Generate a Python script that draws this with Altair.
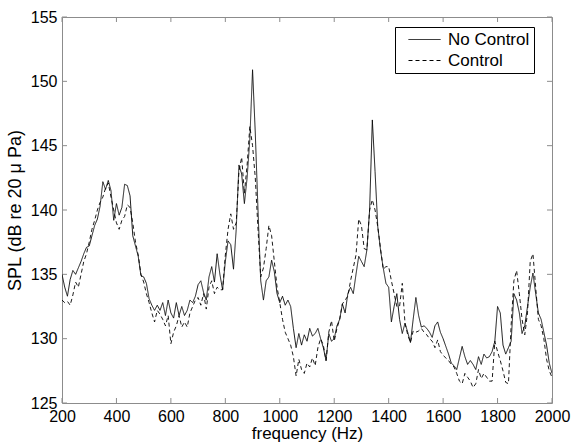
import altair as alt
import pandas as pd

freq = list(range(200, 2001, 10))

no_control = [
    135.0, 134.0, 133.3, 134.6, 135.3, 135.0, 135.5, 136.0, 136.6, 137.1,  # 200-290
    137.2, 138.0, 138.8, 139.3, 140.3, 142.2, 141.6, 142.3, 141.5, 139.2,  # 300-390
    140.5, 139.6, 140.2, 142.0, 141.9, 141.1, 138.0, 137.2, 136.4, 134.9,  # 400-490
    134.8, 134.3, 133.1, 132.6, 132.2, 132.6, 132.2, 132.8, 131.8, 133.0,  # 500-590
    132.0, 131.6, 132.8, 131.8, 132.5, 131.8, 132.2, 133.0, 132.8, 133.3,  # 600-690
    134.2, 134.5, 133.6, 133.0, 134.8, 135.6, 134.4, 136.6, 135.0, 133.8,  # 700-790
    136.0, 137.6, 137.3, 135.4, 138.5, 143.5, 142.8, 140.5, 142.5, 145.5,  # 800-890
    150.9, 146.0, 140.0, 134.5, 133.0, 134.5, 134.8, 136.1, 135.2, 133.5,  # 900-990
    132.8, 133.3, 132.6, 133.0, 132.5, 130.8, 129.3, 130.4, 129.5, 130.3,  # 1000-1090
    129.8, 130.8, 130.2, 130.4, 130.8, 130.0, 129.3, 128.3, 130.4, 129.8,  # 1100-1190
    130.0, 131.0, 131.5, 132.7, 132.0, 133.5, 134.0, 133.5, 135.0, 136.4,  # 1200-1290
    136.0, 135.6, 136.9, 140.0, 147.0, 143.0, 138.7, 136.9, 135.5, 134.3,  # 1300-1390
    134.0, 131.3, 132.5, 133.5, 131.5, 130.4, 131.2, 130.5, 129.7, 131.5,  # 1400-1490
    133.2, 131.8, 130.9, 131.0, 130.8, 130.5, 130.1, 131.0, 131.3, 130.5,  # 1500-1590
    130.0, 129.4, 128.8, 128.1, 127.9, 127.6, 128.5, 129.4, 128.6, 128.0,  # 1600-1690
    128.3, 128.0, 127.6, 128.6, 128.0, 128.8, 128.5, 128.6, 129.0, 129.8,  # 1700-1790
    132.5, 132.0, 129.5, 128.8, 129.3, 129.8, 133.5, 133.0, 132.0, 130.4,  # 1800-1890
    131.0, 132.5, 134.0, 135.1, 133.5, 132.0, 131.5, 130.5, 129.5, 128.1,  # 1900-1990
    127.3,                                                                 # 2000
]

control = [
    133.0, 132.8, 132.9, 132.6, 133.4, 134.4, 134.0, 135.0, 136.0, 136.6,  # 200-290
    137.5, 138.5, 139.2, 140.0, 140.6, 141.0, 141.7, 142.1, 141.0, 140.0,  # 300-390
    139.0, 138.5, 139.2, 139.5, 140.4, 140.2, 139.0, 137.5, 136.5, 135.0,  # 400-490
    134.4, 133.5, 132.8, 132.0, 131.3, 132.2, 131.9, 131.5, 131.0, 131.8,  # 500-590
    129.6, 130.5, 131.0, 131.8, 130.9, 131.3, 130.9, 132.0, 132.5, 133.0,  # 600-690
    133.2, 132.6, 133.5, 132.3, 134.0, 134.5, 133.5, 134.0, 133.8, 133.8,  # 700-790
    136.5, 138.5, 139.7, 138.5, 139.0, 143.0, 144.1, 141.3, 143.5, 146.5,  # 800-890
    145.0, 142.5, 138.5, 134.8, 135.5, 137.0, 138.8, 138.0, 136.0, 134.0,  # 900-990
    132.8, 131.5, 130.5, 130.0, 129.5, 128.6, 127.1, 128.4, 127.6, 127.3,  # 1000-1090
    128.1, 127.8, 128.5, 127.9, 129.3, 130.0, 129.5, 128.3, 130.5, 131.4,  # 1100-1190
    129.8, 130.8, 131.5, 132.7, 133.0, 133.3, 134.5, 135.5, 136.5, 139.3,  # 1200-1290
    138.8, 137.0, 136.9, 140.0, 140.8, 140.0, 138.7, 137.0, 135.4, 135.6,  # 1300-1390
    135.6, 134.5, 133.5, 132.5, 132.5, 134.3, 131.2, 130.3, 129.7, 130.6,  # 1400-1490
    130.5, 130.6, 130.8, 130.5, 130.3, 130.0, 129.8, 129.3, 129.9, 129.0,  # 1500-1590
    128.7, 128.5, 128.3, 128.0, 127.8, 127.3, 126.7, 126.5, 127.3, 127.0,  # 1600-1690
    126.7, 126.2, 126.5, 127.6, 126.9, 127.3, 127.0, 126.7, 126.7, 129.8,  # 1700-1790
    129.0, 128.3, 127.5, 126.6, 126.5, 131.1, 134.5, 135.3, 133.5, 131.5,  # 1800-1890
    130.3, 132.0, 136.0, 136.6, 134.0, 131.5, 131.0, 130.0, 128.4, 127.5,  # 1900-1990
    127.0,                                                                 # 2000
]

series_names = ["No Control", "Control"]
x_ticks = [200, 400, 600, 800, 1000, 1200, 1400, 1600, 1800, 2000]
y_ticks = [125, 130, 135, 140, 145, 150, 155]

n = len(freq)
df = pd.DataFrame({
    "f": freq + freq,
    "spl": no_control + control,
    "series": [series_names[0]] * n + [series_names[1]] * n,
})
xt = pd.DataFrame({"f": x_ticks})
yt = pd.DataFrame({"spl": y_ticks})

W, H = 490, 386
FONT = "Liberation Sans"
FRAME = "#8c8c8c"
TL = 5

xs = alt.Scale(domain=[200, 2000], nice=False, zero=False)
ys = alt.Scale(domain=[125, 155], nice=False, zero=False)

x_axis = alt.Axis(values=x_ticks, format="d", title="frequency (Hz)", tickSize=0, domain=False,
                  grid=False, labelPadding=5, labelFontSize=16, titleFontSize=17,
                  titleFontWeight="normal", titlePadding=1, labelFont=FONT,
                  titleFont=FONT, labelColor="black", titleColor="black",
                  labelOverlap=False, labelFlush=False)
y_axis = alt.Axis(values=y_ticks, format="d", title="SPL (dB re 20 \u03bc Pa)", tickSize=0, domain=False,
                  grid=False, labelPadding=5, labelFontSize=16, titleFontSize=18,
                  titleFontWeight="normal", titlePadding=6, labelFont=FONT,
                  titleFont=FONT, labelColor="black", titleColor="black",
                  labelOverlap=False, labelFlush=False)

x_enc = alt.X("f:Q", scale=xs, axis=x_axis)
y_enc = alt.Y("spl:Q", scale=ys, axis=y_axis)

lines = alt.Chart(df).mark_line(color="black", strokeWidth=0.9, clip=True).encode(
    x=x_enc,
    y=y_enc,
    strokeDash=alt.StrokeDash(
        "series:N",
        scale=alt.Scale(domain=series_names, range=[[1, 0], [4, 3]]),
        legend=alt.Legend(
            title=None, orient="none", legendX=333, legendY=10,
            strokeColor="black", fillColor="white", padding=4,
            labelFontSize=17, labelFont=FONT, labelColor="black",
            labelExpr="datum.label + '   '",
            symbolType="M-2,0H2", symbolSize=256, symbolStrokeWidth=1,
            symbolStrokeColor="black", symbolFillColor="transparent",
            labelOffset=15, rowPadding=3, symbolOffset=17,
        ),
    ),
)

tick_bottom = alt.Chart(xt).mark_rule(color=FRAME, strokeWidth=1).encode(
    x=x_enc, y=alt.value(H), y2=alt.value(H - TL))
tick_top = alt.Chart(xt).mark_rule(color=FRAME, strokeWidth=1).encode(
    x=x_enc, y=alt.value(0), y2=alt.value(TL))
tick_left = alt.Chart(yt).mark_rule(color=FRAME, strokeWidth=1).encode(
    y=y_enc, x=alt.value(0), x2=alt.value(TL))
tick_right = alt.Chart(yt).mark_rule(color=FRAME, strokeWidth=1).encode(
    y=y_enc, x=alt.value(W), x2=alt.value(W - TL))

chart = alt.layer(tick_bottom, tick_top, tick_left, tick_right, lines).properties(
    width=W, height=H,
    autosize=alt.AutoSizeParams(type="none"),
    padding={"left": 62, "top": 17, "right": 20, "bottom": 41},
    background="white",
).configure_view(stroke=FRAME, strokeWidth=1)

chart.save("out.html", embed_options={"renderer": "svg", "actions": False})
